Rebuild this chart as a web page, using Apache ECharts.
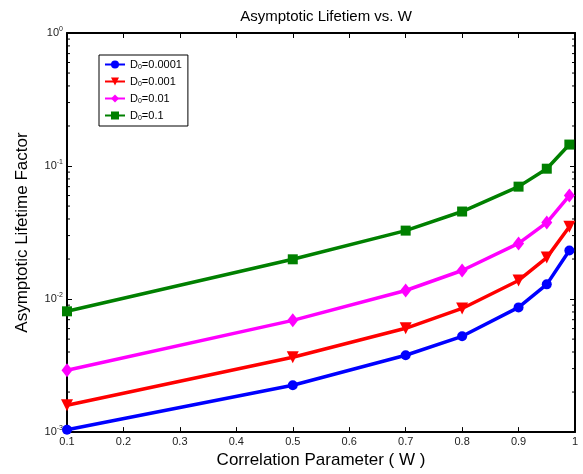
<!DOCTYPE html>
<html>
<head>
<meta charset="utf-8">
<script src="https://cdn.jsdelivr.net/npm/echarts@6/dist/echarts.min.js"></script>
<style>
  html, body { margin: 0; padding: 0; background: #fff; }
  #chart { width: 583px; height: 474px; }
</style>
</head>
<body>
<div id="chart"></div>
<script>
// Correlation parameter W (x values)
const wValues = [0.1, 0.5, 0.7, 0.8, 0.9, 0.95, 0.99];

// Initial D0 values, one curve each
const d0Values = ['0.0001', '0.001', '0.01', '0.1'];

// Asymptotic lifetime factor for each D0
const lifeD0_0001 = [0.00104, 0.00225, 0.00378, 0.00525, 0.00866, 0.0129, 0.0232];
const lifeD0_001  = [0.00159, 0.00365, 0.00603, 0.0085, 0.0138, 0.0205, 0.035];
const lifeD0_01   = [0.00292, 0.00692, 0.0116, 0.0164, 0.0262, 0.0376, 0.060];
const lifeD0_1    = [0.00809, 0.0199, 0.0327, 0.0455, 0.070, 0.0955, 0.145];

// Minor log ticks (2..9 within each decade)
const minorTickValues = [];
[0.001, 0.01, 0.1].forEach(function (base) {
  for (let k = 2; k <= 9; k++) minorTickValues.push(+(base * k).toPrecision(3));
});

const FONT = "'Liberation Sans', Arial, Helvetica, sans-serif";
const seriesData = [lifeD0_0001, lifeD0_001, lifeD0_01, lifeD0_1];
const colors = ['#0000ff', '#ff0000', '#ff00ff', '#008000'];
const symbols = ['circle', 'triangle', 'diamond', 'rect'];
const symbolSizes = [10, 12, [11, 14], 10];
const symbolRotates = [0, 180, 0, 0];

const lineSeries = d0Values.map(function (d0, i) {
  return {
    name: d0,
    type: 'line',
    data: wValues.map(function (w, j) { return [w, seriesData[i][j]]; }),
    color: colors[i],
    lineStyle: { width: 3.5, color: colors[i] },
    itemStyle: { color: colors[i] },
    symbol: symbols[i],
    symbolSize: symbolSizes[i],
    symbolRotate: symbolRotates[i],
    showAllSymbol: true,
    z: 3 + i,
    animation: false
  };
});

// Minor tick marks drawn through the y scale, on both left and right edges
const minorTickSeries = {
  type: 'custom',
  name: 'minor',
  data: minorTickValues.map(function (v) { return [v]; }),
  renderItem: function (params, api) {
    const v = api.value(0);
    const l = api.coord([0.1, v]);
    const r = api.coord([1, v]);
    const len = 3;
    return {
      type: 'group',
      children: [
        { type: 'line', shape: { x1: l[0], y1: l[1], x2: l[0] + len, y2: l[1] }, style: { stroke: '#000', lineWidth: 1 } },
        { type: 'line', shape: { x1: r[0], y1: r[1], x2: r[0] - len, y2: r[1] }, style: { stroke: '#000', lineWidth: 1 } }
      ]
    };
  },
  encode: { y: 0 },
  silent: true,
  clip: false,
  z: 1,
  animation: false
};

const chart = echarts.init(document.getElementById('chart'), null, { renderer: 'canvas' });

const logLabel = function (v) {
  const e = Math.round(Math.log10(v));
  return '{b|10}{s|' + e + '}';
};

const yLabelRich = {
  b: { fontSize: 11, fontFamily: FONT, color: '#222' },
  s: { fontSize: 7, fontFamily: FONT, color: '#222', padding: [0, 0, 8, 0] }
};

chart.setOption({
  backgroundColor: '#fff',
  animation: false,
  textStyle: { fontFamily: FONT },
  title: {
    text: 'Asymptotic Lifetiem vs. W',
    left: 321,
    textAlign: 'center',
    top: 4,
    textStyle: { fontSize: 15, fontWeight: 'normal', color: '#000', fontFamily: FONT }
  },
  grid: { left: 67, top: 33, right: 8, bottom: 41, containLabel: false },
  legend: {
    data: d0Values,
    left: 99,
    top: 55,
    orient: 'vertical',
    itemWidth: 20,
    itemHeight: 10,
    itemGap: 5,
    padding: [4, 6, 4, 5],
    borderColor: '#000',
    borderWidth: 1,
    backgroundColor: '#fff',
    formatter: function (name) { return '{d|D}{sub|0}{d|=' + name + '}'; },
    textStyle: {
      fontFamily: FONT,
      color: '#000',
      rich: {
        d: { fontSize: 11, fontFamily: FONT, color: '#000' },
        sub: { fontSize: 7, fontFamily: FONT, color: '#000', padding: [6, 0, 0, 0] }
      }
    }
  },
  xAxis: [
    {
      type: 'value',
      min: 0.1,
      max: 1,
      interval: 0.1,
      name: 'Correlation Parameter ( W )',
      nameLocation: 'middle',
      nameGap: 18,
      nameTextStyle: { fontSize: 17, color: '#000', fontFamily: FONT },
      axisLine: { show: true, onZero: false, lineStyle: { color: '#000', width: 2 } },
      axisTick: { show: true, inside: true, length: 5, lineStyle: { color: '#000', width: 1 } },
      axisLabel: {
        margin: 4, fontSize: 11, color: '#222', fontFamily: FONT,
        formatter: function (v) { return String(+v.toFixed(1)); }
      },
      splitLine: { show: false }
    },
    {
      type: 'value',
      position: 'top',
      min: 0.1,
      max: 1,
      interval: 0.1,
      axisLine: { show: true, onZero: false, lineStyle: { color: '#000', width: 2 } },
      axisTick: { show: true, inside: true, length: 5, lineStyle: { color: '#000', width: 1 } },
      axisLabel: { show: false },
      splitLine: { show: false }
    }
  ],
  yAxis: [
    {
      type: 'log',
      logBase: 10,
      min: 0.001,
      max: 1,
      name: 'Asymptotic Lifetime Factor',
      nameLocation: 'middle',
      nameGap: 36,
      nameTextStyle: { fontSize: 17, color: '#000', fontFamily: FONT },
      axisLine: { show: true, onZero: false, lineStyle: { color: '#000', width: 2 } },
      axisTick: { show: true, inside: true, length: 5, lineStyle: { color: '#000', width: 1 } },
      axisLabel: { margin: 4, formatter: logLabel, rich: yLabelRich },
      splitLine: { show: false }
    },
    {
      type: 'log',
      logBase: 10,
      min: 0.001,
      max: 1,
      position: 'right',
      axisLine: { show: true, onZero: false, lineStyle: { color: '#000', width: 2 } },
      axisTick: { show: true, inside: true, length: 5, lineStyle: { color: '#000', width: 1 } },
      axisLabel: { show: false },
      splitLine: { show: false }
    }
  ],
  series: lineSeries.concat([minorTickSeries])
});
</script>
</body>
</html>
